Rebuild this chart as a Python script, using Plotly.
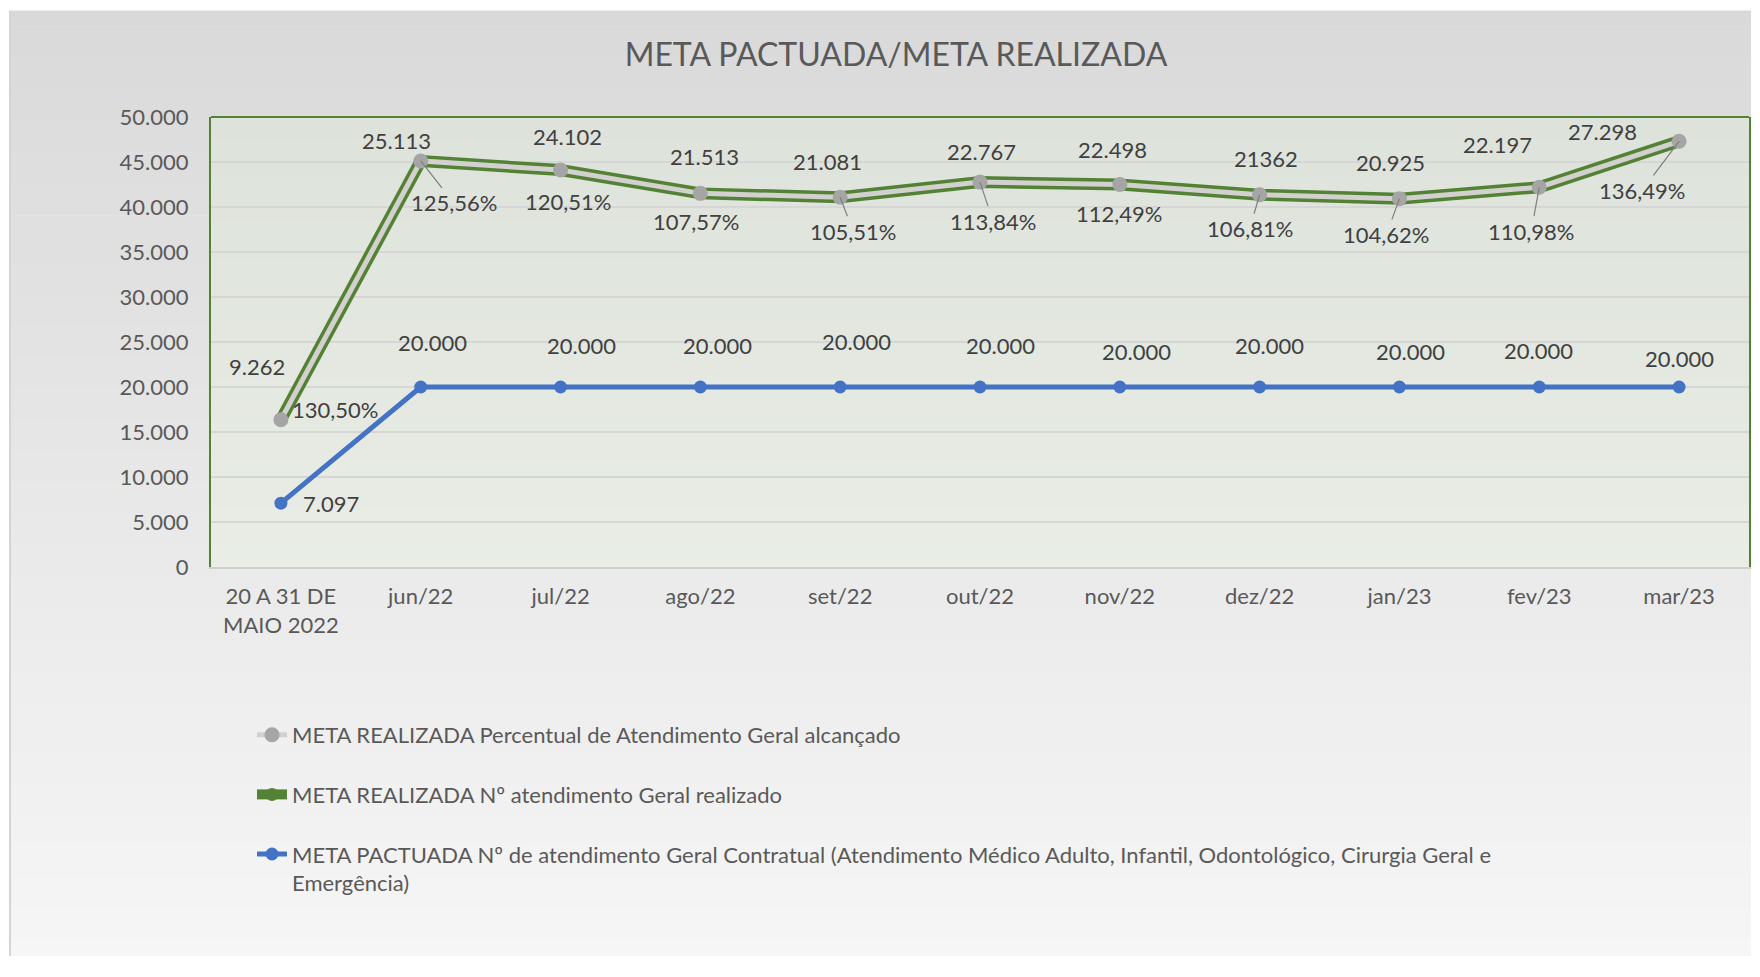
import plotly.graph_objects as go

# categorias do eixo X
meses = [
    "20 A 31 DE<br>MAIO 2022", "jun/22", "jul/22", "ago/22", "set/22", "out/22",
    "nov/22", "dez/22", "jan/23", "fev/23", "mar/23",
]
# META PACTUADA (contratual)
pactuada = [7097, 20000, 20000, 20000, 20000, 20000, 20000, 20000, 20000, 20000, 20000]
# META REALIZADA (nº de atendimentos)
realizado = [9262, 25113, 24102, 21513, 21081, 22767, 22498, 21362, 20925, 22197, 27298]
# percentual alcançado
percentual = [130.50, 125.56, 120.51, 107.57, 105.51, 113.84, 112.49, 106.81, 104.62, 110.98, 136.49]

# a página html tem 8px de margem no body; tamanho reduzido para caber na janela
W, H = 1743, 948
L, R, T, B = 203, 2, 109, 389
PW, PH = W - L - R, H - T - B
FONT = "Lato"
TXT = "#404040"


def br(v):
    return f"{v:,}".replace(",", ".")


def pct(v):
    return f"{v:.2f}%".replace(".", ",")


# gráfico de linhas empilhadas (como no Excel)
y_real = [p + r for p, r in zip(pactuada, realizado)]
y_pct = [yr + v / 100 for yr, v in zip(y_real, percentual)]

lbl_real = [br(v) for v in realizado]
lbl_real[7] = "21362"  # no original este rótulo aparece sem separador

# deslocamentos (px) dos rótulos, ajustados à mão como no original
off_real = [(-24, -53), (-24, -20), (7, -34), (4, -37), (-13, -36), (1, -31),
            (-7, -35), (6, -36), (-9, -36), (-42, -43), (-77, -10)]
off_pct = [(54, -10), (33, 42), (7, 31), (-4, 28), (13, 34), (13, 39),
           (-1, 29), (-10, 34), (-13, 36), (-8, 44), (-37, 49)]
leader_pct = [False, True, False, False, True, True, False, True, True, True, True]
off_pac = [(50, 0), (12, -45), (21, -42), (17, -42), (16, -46), (20, -42),
           (17, -36), (10, -42), (11, -36), (-1, -37), (0, -29)]

fig = go.Figure()
fig.add_trace(go.Scatter(
    x=meses, y=pactuada, mode="lines+markers",
    name="META PACTUADA Nº de atendimento Geral Contratual (Atendimento Médico Adulto, Infantil, Odontológico, Cirurgia Geral e<br>Emergência)",
    line=dict(color="#4472c4", width=5),
    marker=dict(color="#4472c4", size=13),
    legendgroup="c", legendrank=3,
))
fig.add_trace(go.Scatter(
    x=meses, y=y_real, mode="lines+markers",
    name="META REALIZADA Nº atendimento Geral realizado",
    line=dict(color="#548235", width=12),
    marker=dict(color="#548235", size=13),
    legendgroup="b", legendrank=2,
))
fig.add_trace(go.Scatter(
    x=meses, y=y_pct, mode="lines+markers",
    name="META REALIZADA Percentual de Atendimento Geral alcançado",
    line=dict(color="#d3d0d0", width=5),
    marker=dict(color="#a5a5a5", size=15),
    legendgroup="a", legendrank=1,
))

ann = []
for i, m in enumerate(meses):
    ann.append(dict(x=m, y=y_real[i], text=lbl_real[i], ax=off_real[i][0], ay=off_real[i][1],
                    showarrow=True, arrowcolor="rgba(0,0,0,0)"))
    ann.append(dict(x=m, y=y_pct[i], text=pct(percentual[i]), ax=off_pct[i][0], ay=off_pct[i][1],
                    showarrow=True, arrowhead=0, arrowwidth=1.2, standoff=0,
                    arrowcolor="#7f7f7f" if leader_pct[i] else "rgba(0,0,0,0)"))
    ann.append(dict(x=m, y=pactuada[i], text=br(pactuada[i]), ax=off_pac[i][0], ay=off_pac[i][1],
                    showarrow=True, arrowcolor="rgba(0,0,0,0)"))
for a in ann:
    a["font"] = dict(family=FONT, size=22, color=TXT)


def px_x(p):
    return (p - L) / PW


def px_y(p):
    return (H - B - p) / PH


shapes = []
# fundo degradê do gráfico
n = 60
top, bot = 3, H
for k in range(n):
    y0 = top + (bot - top) * k / n
    y1 = top + (bot - top) * (k + 1) / n
    c = round(217 + (246 - 217) * (k + 0.5) / n)
    shapes.append(dict(type="rect", xref="paper", yref="paper", layer="below",
                       x0=px_x(1), x1=px_x(W), y0=px_y(y1), y1=px_y(y0) + 0.001,
                       fillcolor=f"rgb({c},{c},{c})", line_width=0))
shapes.append(dict(type="line", xref="paper", yref="paper", layer="below",
                   x0=px_x(2), x1=px_x(2), y0=px_y(3), y1=px_y(H),
                   line=dict(color="#d4d4d4", width=2)))
# fundo degradê da área de plotagem
for k in range(n):
    f = (k + 0.5) / n
    r = round(221 + (233 - 221) * f)
    g = round(226 + (237 - 226) * f)
    b = round(219 + (230 - 219) * f)
    shapes.append(dict(type="rect", xref="x domain", yref="y domain", layer="below",
                       x0=0, x1=1, y0=1 - (k + 1) / n, y1=1 - k / n + 0.001,
                       fillcolor=f"rgb({r},{g},{b})", line_width=0))
shapes.append(dict(type="line", xref="x domain", yref="y domain", layer="above",
                   x0=0, x1=1, y0=1, y1=1, line=dict(color="#548235", width=2)))

fig.update_layout(
    width=W, height=H,
    margin=dict(l=L, r=R, t=T, b=B, autoexpand=False),
    paper_bgcolor="white", plot_bgcolor="rgba(0,0,0,0)",
    separators=",.",
    font=dict(family=FONT, size=22, color="#595959"),
    title=dict(text="META PACTUADA/META REALIZADA", x=888 / W, xanchor="center",
               xref="container", y=1 - 47 / H, yanchor="middle", yref="container",
               font=dict(family=FONT, size=32, color="#595959")),
    xaxis=dict(range=[-0.5, 10.5], showgrid=False, showline=True, linecolor="#cfcfcf",
               linewidth=2, ticks="", ticklabelstandoff=9, zeroline=False,
               tickangle=0, automargin=False),
    yaxis=dict(range=[0, 50000], dtick=5000, tickformat=",d", showgrid=True,
               gridcolor="#d6d6d6", gridwidth=1.5, showline=True, mirror=True,
               linecolor="#548235", linewidth=2, zeroline=False, ticks="",
               ticklabelstandoff=16, automargin=False),
    legend=dict(xref="container", yref="container", x=244 / W, y=1 - 706 / H,
                xanchor="left", yanchor="top", bgcolor="rgba(0,0,0,0)",
                tracegroupgap=28, valign="top", font=dict(family=FONT, size=22, color="#595959")),
    annotations=ann,
    shapes=shapes,
    showlegend=True,
)

fig.write_html("out.html")
